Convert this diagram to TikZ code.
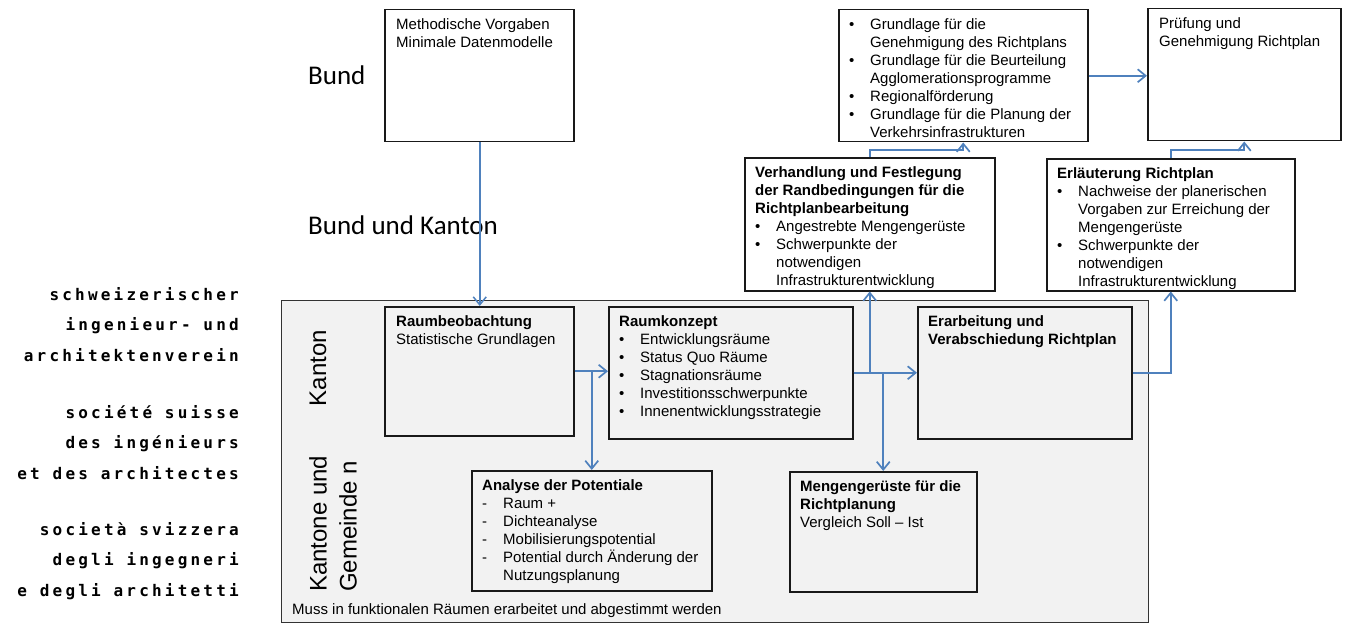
\documentclass[tikz,border=0pt]{standalone}
\usepackage{fontspec}
\setmainfont{Liberation Sans}
\newfontfamily\calib{Carlito}
\newfontfamily\monob[LetterSpace=20]{DejaVu Sans Mono Bold}
\usetikzlibrary{arrows.meta,calc}
\definecolor{arrowblue}{RGB}{79,129,189}
\definecolor{regiongrey}{RGB}{242,242,242}
\newcommand\bx{\fontsize{15}{18}\selectfont}
\newcommand\bul{\textbullet}
\begin{document}
\begin{tikzpicture}[x=1pt,y=-1pt,
  box/.style={draw=black!90, line width=1.5pt, inner sep=0pt, anchor=north west, rectangle, fill=white},
  gbox/.style={box, fill=regiongrey},
  txt/.style={anchor=north west, inner sep=0pt, font=\bx},
  arr/.style={draw=arrowblue, line width=1.7pt, -{Straight Barb[length=8pt,width=13pt]}},
  thinarr/.style={arr, line width=1.5pt},
  lefttxt/.style={anchor=base east, inner sep=0pt, font=\monob\fontsize{16}{18}\selectfont},
  level/.style={anchor=base west, inner sep=0pt, font=\calib\fontsize{27}{32}\selectfont},
  rot/.style={rotate=90, inner sep=0pt, font=\fontsize{24}{30}\selectfont}]
\useasboundingbox (0,0) rectangle (1346,623);

% region
\node[draw=black!80, line width=1.3pt, fill=regiongrey, anchor=north west, inner sep=0pt,
  minimum width=867pt, minimum height=322pt] (reg) at (281,300) {};

% level labels
\node[level] (lbund) at (308,85) {Bund};
\node[level] (lbk) at (308,234) {Bund und Kanton};
\node[rot] (lkanton) at (318,368) {Kanton};
\node[rot, anchor=west, align=left] (lkg) at (333,592) {Kantone und\\Gemeinde n};
\node[txt, anchor=base west] (muss) at (292,614) {Muss in funktionalen Räumen erarbeitet und abgestimmt werden};

% left association text
\node[lefttxt] (s1) at (239,300) {schweizerischer};
\node[lefttxt] (s2) at (239,330.5) {ingenieur- und};
\node[lefttxt] (s3) at (239,361) {architektenverein};
\node[lefttxt] (s4) at (239,418) {société suisse};
\node[lefttxt] (s5) at (239,448.5) {des ingénieurs};
\node[lefttxt] (s6) at (239,479) {et des architectes};
\node[lefttxt] (s7) at (239,535) {società svizzera};
\node[lefttxt] (s8) at (239,565.5) {degli ingegneri};
\node[lefttxt] (s9) at (239,596) {e degli architetti};

% boxes
\node[box, minimum width=189pt, minimum height=132pt] (m) at (384,9) {};
\node[box, minimum width=249pt, minimum height=132pt] (gr) at (838,9) {};
\node[box, minimum width=193pt, minimum height=132pt] (pr) at (1147,8) {};
\node[box, minimum width=250pt, minimum height=133pt] (ve) at (744,157) {};
\node[box, minimum width=248pt, minimum height=132pt] (el) at (1046,158) {};
\node[gbox, minimum width=189pt, minimum height=129pt] (rb) at (384,306) {};
\node[gbox, minimum width=244pt, minimum height=132pt] (rk) at (608,306) {};
\node[gbox, minimum width=214pt, minimum height=132pt] (er) at (917,306) {};
\node[gbox, minimum width=240pt, minimum height=120pt] (an) at (471,470) {};
\node[gbox, minimum width=187pt, minimum height=120pt] (mg) at (789,471) {};

% box texts
\node[txt] (mt) at ([xshift=12pt,yshift=-7.5pt]m.north west) {\begin{tabular}{@{}l@{}}Methodische Vorgaben\\Minimale Datenmodelle\end{tabular}};
\node[txt] (grt) at ([xshift=11pt,yshift=-7.5pt]gr.north west) {\begin{tabular}{@{}p{21pt}@{}l@{}}
\bul&Grundlage für die\\
&Genehmigung des Richtplans\\
\bul&Grundlage für die Beurteilung\\
&Agglomerationsprogramme\\
\bul&Regionalförderung\\
\bul&Grundlage für die Planung der\\
&Verkehrsinfrastrukturen
\end{tabular}};
\node[txt] (prt) at ([xshift=12pt,yshift=-7.5pt]pr.north west) {\begin{tabular}{@{}l@{}}Prüfung und\\Genehmigung Richtplan\end{tabular}};
\node[txt] (vet) at ([xshift=11pt,yshift=-7.5pt]ve.north west) {\begin{tabular}{@{}p{21pt}@{}l@{}}
\multicolumn{2}{@{}l@{}}{\bfseries Verhandlung und Festlegung}\\
\multicolumn{2}{@{}l@{}}{\bfseries der Randbedingungen für die}\\
\multicolumn{2}{@{}l@{}}{\bfseries Richtplanbearbeitung}\\
\bul&Angestrebte Mengengerüste\\
\bul&Schwerpunkte der\\
&notwendigen\\
&Infrastrukturentwicklung
\end{tabular}};
\node[txt] (elt) at ([xshift=11pt,yshift=-7.5pt]el.north west) {\begin{tabular}{@{}p{21pt}@{}l@{}}
\multicolumn{2}{@{}l@{}}{\bfseries Erläuterung Richtplan}\\
\bul&Nachweise der planerischen\\
&Vorgaben zur Erreichung der\\
&Mengengerüste\\
\bul&Schwerpunkte der\\
&notwendigen\\
&Infrastrukturentwicklung
\end{tabular}};
\node[txt] (rbt) at ([xshift=12pt,yshift=-7.5pt]rb.north west) {\begin{tabular}{@{}l@{}}\bfseries Raumbeobachtung\\Statistische Grundlagen\end{tabular}};
\node[txt] (rkt) at ([xshift=11pt,yshift=-7.5pt]rk.north west) {\begin{tabular}{@{}p{21pt}@{}l@{}}
\multicolumn{2}{@{}l@{}}{\bfseries Raumkonzept}\\
\bul&Entwicklungsräume\\
\bul&Status Quo Räume\\
\bul&Stagnationsräume\\
\bul&Investitionsschwerpunkte\\
\bul&Innenentwicklungsstrategie
\end{tabular}};
\node[txt] (ert) at ([xshift=11pt,yshift=-7.5pt]er.north west) {\begin{tabular}{@{}l@{}}\bfseries Erarbeitung und\\\bfseries Verabschiedung Richtplan\end{tabular}};
\node[txt] (ant) at ([xshift=11pt,yshift=-7.5pt]an.north west) {\begin{tabular}{@{}p{21pt}@{}l@{}}
\multicolumn{2}{@{}l@{}}{\bfseries Analyse der Potentiale}\\
-&Raum +\\
-&Dichteanalyse\\
-&Mobilisierungspotential\\
-&Potential durch Änderung der\\
&Nutzungsplanung
\end{tabular}};
\node[txt] (mgt) at ([xshift=11pt,yshift=-7.5pt]mg.north west) {\begin{tabular}{@{}l@{}}\bfseries Mengengerüste für die\\\bfseries Richtplanung\\Vergleich Soll -- Ist\end{tabular}};

% connectors
\draw[thinarr] ([xshift=0.5pt]m.south) -- ([xshift=0.5pt]rb.north);
\draw[arr] (rb.east) -- (rb.east -| rk.west);
\draw[arr] (rb.east) -| (an.north);
\draw[arr] (rk.east) -- (rk.east -| er.west);
\draw[arr] (rk.east) -| (ve.south);
\draw[arr] (rk.east) -| (mg.north);
\draw[arr] (er.east) -| (el.south);
\draw[arr] (ve.north) |- ($(ve.north)!.5!(gr.south)$) -| (gr.south);
\draw[arr] (el.north) |- ($(el.north)!.5!(pr.south)$) -| (pr.south);
\draw[arr] (gr.east) -- (gr.east -| pr.west);
\end{tikzpicture}
\end{document}
